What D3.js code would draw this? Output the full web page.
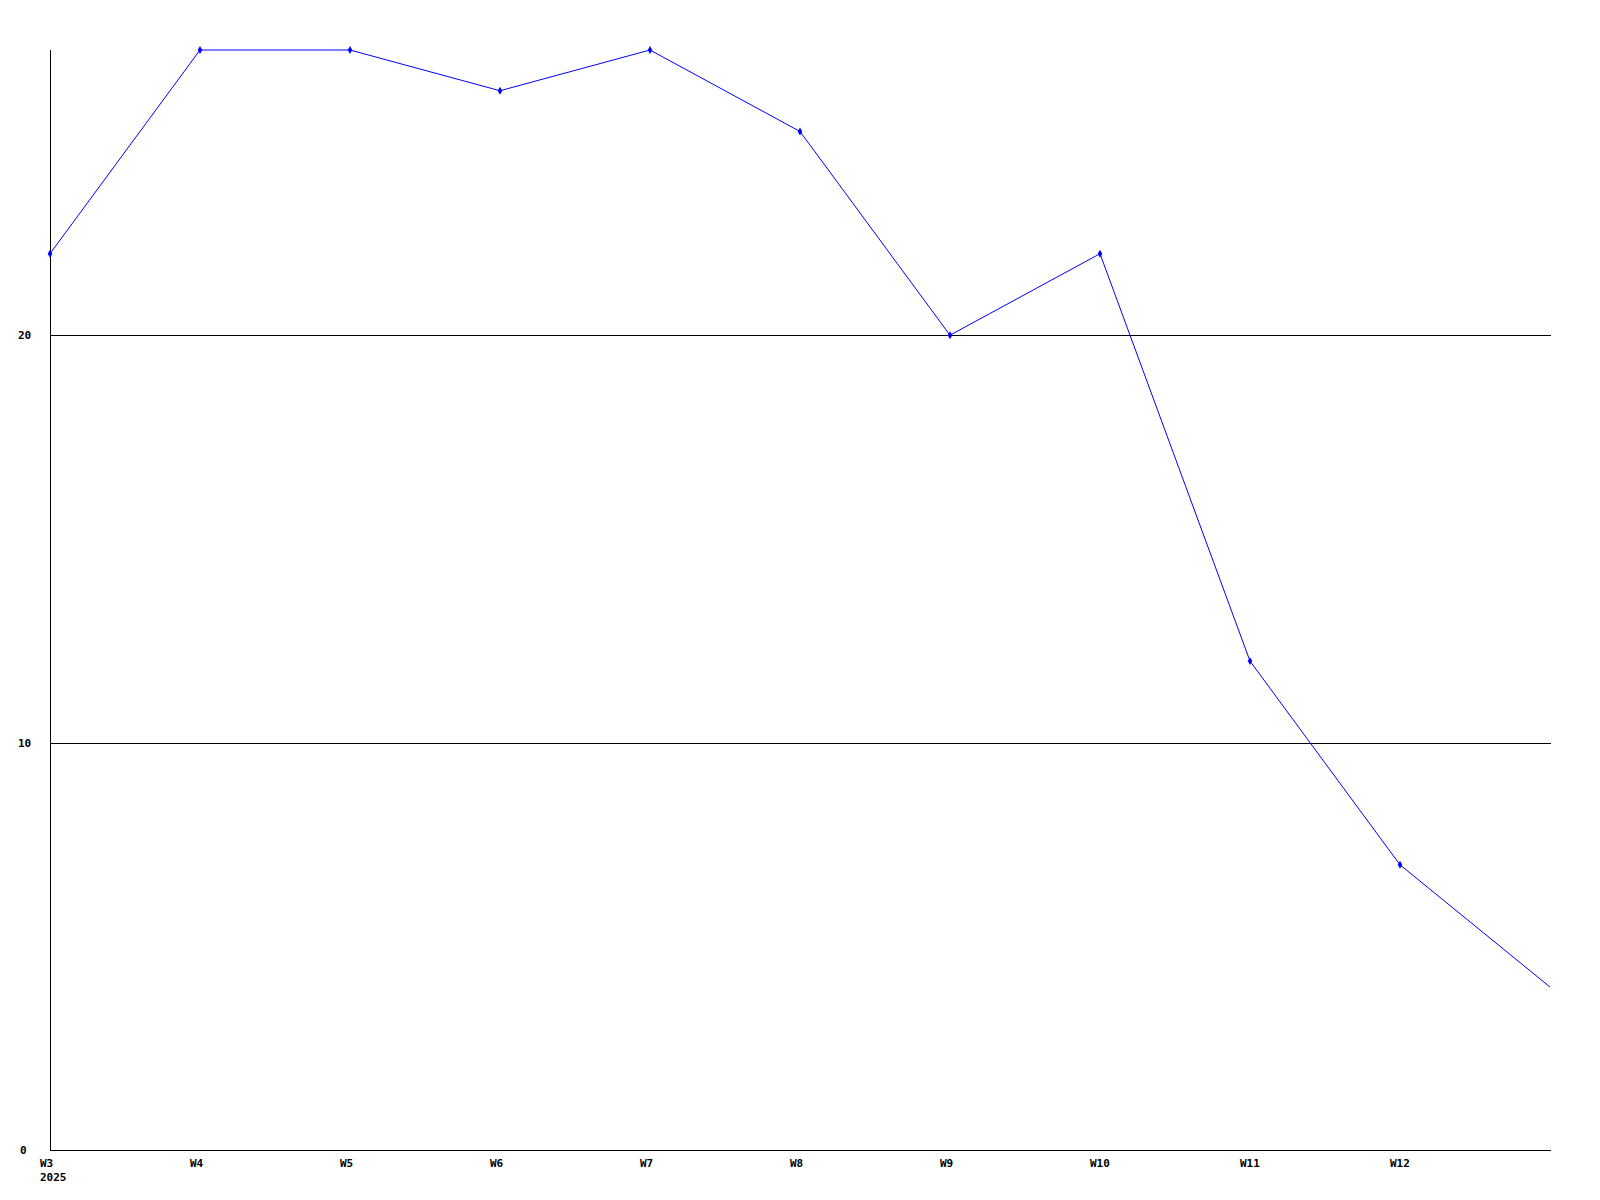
<!DOCTYPE html>
<html><head><meta charset="utf-8">
<script src="https://cdn.jsdelivr.net/npm/d3@7"></script>
<style>body{margin:0;background:#fff}svg{display:block}text{font-family:"DejaVu Sans Mono",monospace;font-size:11px;font-weight:bold;fill:#000}</style>
</head><body><svg id="c" width="1600" height="1200"></svg>
<script>
const weeks = ["W3","W4","W5","W6","W7","W8","W9","W10","W11","W12","W13"];
const weekLabels = ["W3","W4","W5","W6","W7","W8","W9","W10","W11","W12"];
const values = [22,27,27,26,27,25,20,22,12,7,4];
const yTicks = [0,10,20];
const yearLabel = "2025";

const svg = d3.select("#c");
const x = d3.scalePoint().domain(weeks).range([50,1550]);
const y = d3.scaleLinear().domain([0,27]).range([1150,50]);

// gridlines
svg.selectAll("line.grid").data(yTicks.filter(d=>d>0)).enter().append("line")
  .attr("x1",50).attr("x2",1551).attr("y1",d=>Math.round(y(d))+0.5).attr("y2",d=>Math.round(y(d))+0.5)
  .attr("stroke","#000").attr("stroke-width",1);
// axes
svg.append("line").attr("x1",50.5).attr("x2",50.5).attr("y1",50).attr("y2",1150).attr("stroke","#000");
svg.append("line").attr("x1",50).attr("x2",1551).attr("y1",1150.5).attr("y2",1150.5).attr("stroke","#000");

// y labels
svg.selectAll("text.yl").data(yTicks).enter().append("text")
  .attr("x",d=>d<10?20:18).attr("y",d=>y(d)+4).text(d=>d);
// x labels
svg.selectAll("text.xl").data(weekLabels).enter().append("text")
  .attr("x",d=>x(d)-10).attr("y",1167).text(d=>d);
svg.append("text").attr("x",40).attr("y",1181).text(yearLabel);

// line
const pts = weeks.map((w,i)=>[x(w),y(values[i])]);
svg.append("path").attr("d",d3.line()(pts)).attr("fill","none").attr("stroke","#0000ff").attr("stroke-width",1);
svg.selectAll("path.m").data(pts.slice(0,pts.length-1)).enter().append("path")
  .attr("d",d3.symbol(d3.symbolDiamond,18)).attr("transform",d=>`translate(${d[0]},${d[1]})`).attr("fill","#0000ff");
</script></body></html>
